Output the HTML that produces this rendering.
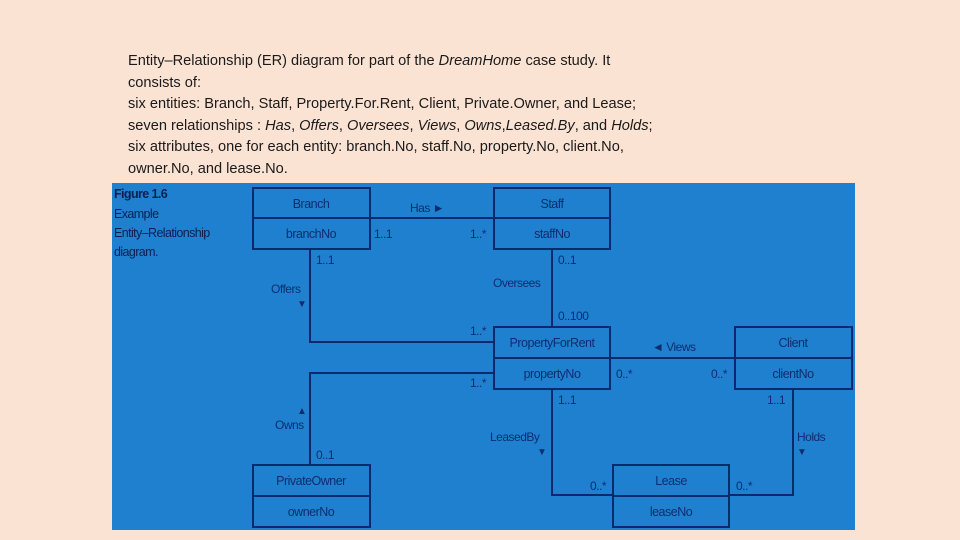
<!DOCTYPE html>
<html><head><meta charset="utf-8"><style>
body{margin:0;width:960px;height:540px;background:#fbe3d4;position:relative;overflow:hidden;font-family:"Liberation Sans",sans-serif}
.cap{position:absolute;left:128px;top:51px;font-size:14.6px;line-height:21.6px;color:#1a1a1a;width:720px}
</style></head><body>
<div class="cap">Entity–Relationship (ER) diagram for part of the <i>DreamHome</i> case study. It<br>consists of:<br>six entities: Branch, Staff, Property.For.Rent, Client, Private.Owner, and Lease;<br>seven relationships : <i>Has</i>, <i>Offers</i>, <i>Oversees</i>, <i>Views</i>, <i>Owns</i>,<i>Leased.By</i>, and <i>Holds</i>;<br>six attributes, one for each entity: branch.No, staff.No, property.No, client.No,<br>owner.No, and lease.No.</div>
<svg style="position:absolute;left:0;top:0" width="960" height="540">
<rect x="112" y="183" width="743" height="347" fill="#1f80d0"/>
<g font-family="Liberation Sans,sans-serif" fill="#0c1f50" font-weight="bold" font-size="12.5" letter-spacing="-0.6">
<text x="114" y="198">Figure 1.6</text></g>
<g font-family="Liberation Sans,sans-serif" fill="#0c1f50" font-size="12.5" letter-spacing="-0.6">
<text x="114" y="218">Example</text><text x="114" y="237">Entity–Relationship</text><text x="114" y="256">diagram.</text></g>
<g stroke="#0b2a6e" stroke-width="2" fill="none">
<rect x="253" y="188" width="117" height="61"/><line x1="253" y1="218" x2="370" y2="218"/>
<rect x="494" y="188" width="116" height="61"/><line x1="494" y1="218" x2="610" y2="218"/>
<rect x="494" y="327" width="116" height="62"/><line x1="494" y1="358" x2="610" y2="358"/>
<rect x="735" y="327" width="117" height="62"/><line x1="735" y1="358" x2="852" y2="358"/>
<rect x="613" y="465" width="116" height="62"/><line x1="613" y1="496" x2="729" y2="496"/>
<rect x="253" y="465" width="117" height="62"/><line x1="253" y1="496" x2="370" y2="496"/>
<line x1="370" y1="218" x2="494" y2="218"/>
<polyline points="310,249 310,342 494,342"/>
<line x1="552" y1="249" x2="552" y2="327"/>
<line x1="610" y1="358" x2="735" y2="358"/>
<polyline points="310,465 310,373 494,373"/>
<polyline points="552,389 552,495 613,495"/>
<polyline points="793,389 793,495 729,495"/>
</g>
<g font-family="Liberation Sans,sans-serif" fill="#0e2d6e" font-size="12.5" letter-spacing="-0.5" text-anchor="middle">
<text x="311" y="208">Branch</text><text x="311" y="238">branchNo</text>
<text x="552" y="208">Staff</text><text x="552" y="238">staffNo</text>
<text x="552" y="347">PropertyForRent</text><text x="552" y="378">propertyNo</text>
<text x="793" y="347">Client</text><text x="793" y="378">clientNo</text>
<text x="671" y="485">Lease</text><text x="671" y="516">leaseNo</text>
<text x="311" y="485">PrivateOwner</text><text x="311" y="516">ownerNo</text>
</g>
<g font-family="Liberation Sans,sans-serif" fill="#0e2d6e" font-size="12" letter-spacing="-0.5">
<text x="410" y="212">Has ►</text>
<text x="374" y="238">1..1</text><text x="470" y="238">1..*</text>
<text x="316" y="264">1..1</text>
<text x="271" y="293">Offers</text><text x="297" y="307" font-size="10">▼</text>
<text x="558" y="264">0..1</text>
<text x="493" y="287">Oversees</text>
<text x="558" y="320">0..100</text>
<text x="470" y="335">1..*</text><text x="470" y="387">1..*</text>
<text x="652" y="351">◄ Views</text>
<text x="616" y="378">0..*</text><text x="711" y="378">0..*</text>
<text x="558" y="404">1..1</text><text x="767" y="404">1..1</text>
<text x="490" y="441">LeasedBy</text><text x="537" y="455" font-size="10">▼</text>
<text x="797" y="441">Holds</text><text x="797" y="455" font-size="10">▼</text>
<text x="590" y="490">0..*</text><text x="736" y="490">0..*</text>
<text x="297" y="414" font-size="10">▲</text>
<text x="275" y="429">Owns</text>
<text x="316" y="459">0..1</text>
</g>
</svg>
</body></html>
